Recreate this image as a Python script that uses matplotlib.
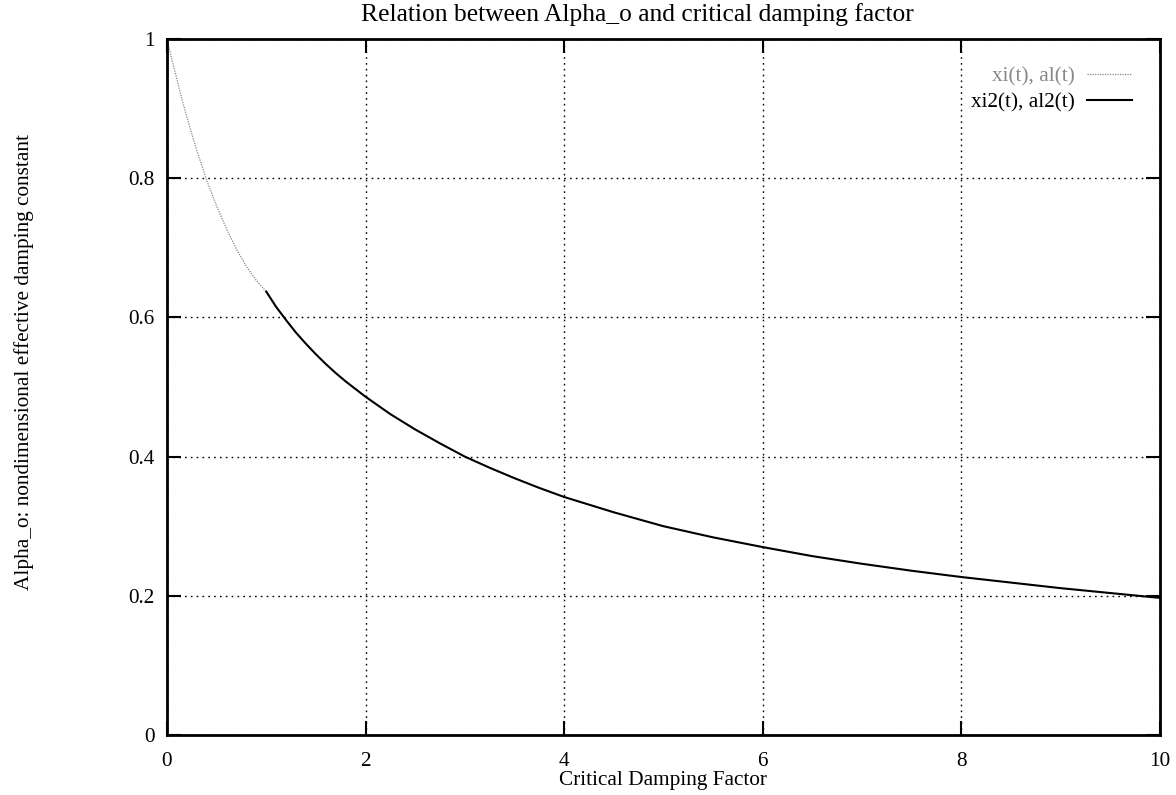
import matplotlib
matplotlib.use("Agg")
import matplotlib.pyplot as plt

# curve: first branch (grey dotted) and second branch (solid)
xi1 = [0.0, 0.05, 0.1, 0.15, 0.2, 0.3, 0.4, 0.5, 0.6, 0.7, 0.8, 0.9, 1.0]
al1 = [1.0, 0.97, 0.942, 0.914, 0.888, 0.84, 0.797, 0.76, 0.727, 0.698,
       0.673, 0.653, 0.637]

xi2 = [1.0, 1.1, 1.2, 1.3, 1.4, 1.5, 1.6, 1.7, 1.8, 1.9, 2.0, 2.25, 2.5,
       2.75, 3.0, 3.25, 3.5, 3.75, 4.0, 4.5, 5.0, 5.5, 6.0, 6.5, 7.0, 7.5,
       8.0, 8.5, 9.0, 9.5, 10.0]
al2 = [0.637, 0.615, 0.596, 0.578, 0.562, 0.547, 0.533, 0.520, 0.508, 0.497,
       0.486, 0.461, 0.439, 0.419, 0.400, 0.384, 0.369, 0.355, 0.342, 0.320,
       0.300, 0.284, 0.270, 0.257, 0.246, 0.236, 0.227, 0.219, 0.211, 0.204,
       0.197]

xticks = [0, 2, 4, 6, 8, 10]
yticks = [0, 0.2, 0.4, 0.6, 0.8, 1]
ytick_labels = ["0", "0.2", "0.4", "0.6", "0.8", "1"]

plt.rcParams["font.family"] = ["Liberation Serif", "DejaVu Serif"]
plt.rcParams["font.size"] = 15.3

fig = plt.figure(figsize=(11.76, 7.95), dpi=100)
ax = fig.add_axes([0.142, 0.0755, 0.844, 0.8755])

ax.plot(xi1, al1, color="#888888", lw=0.9, ls=(0, (1, 1)), label="xi(t), al(t)")
ax.plot(xi2, al2, color="black", lw=1.5, label="xi2(t), al2(t)")

ax.set_xlim(0, 10)
ax.set_ylim(0, 1)
ax.set_xticks(xticks)
ax.set_yticks(yticks)
ax.set_yticklabels(ytick_labels)
ax.tick_params(direction="in", length=10, width=1.5, top=True, right=True, pad=9)
ax.tick_params(axis="x", pad=12)
ax.grid(True, color="black", ls=(0, (1.2, 3)), lw=1.0)
for s in ax.spines.values():
    s.set_linewidth(2)

ax.set_title("Relation between Alpha_o and critical damping factor", x=0.474, pad=13)
ax.set_xlabel("Critical Damping Factor", labelpad=0)
ax.set_ylabel("Alpha_o: nondimensional effective damping constant")
ax.yaxis.set_label_coords(-0.134, 0.536)

leg = ax.legend(loc="upper right", frameon=False, markerfirst=False,
                handlelength=2.1, handletextpad=0.6, labelspacing=0.3,
                borderaxespad=0.9, labelcolor=["#888888", "black"])

fig.savefig("out.png", dpi=100)
